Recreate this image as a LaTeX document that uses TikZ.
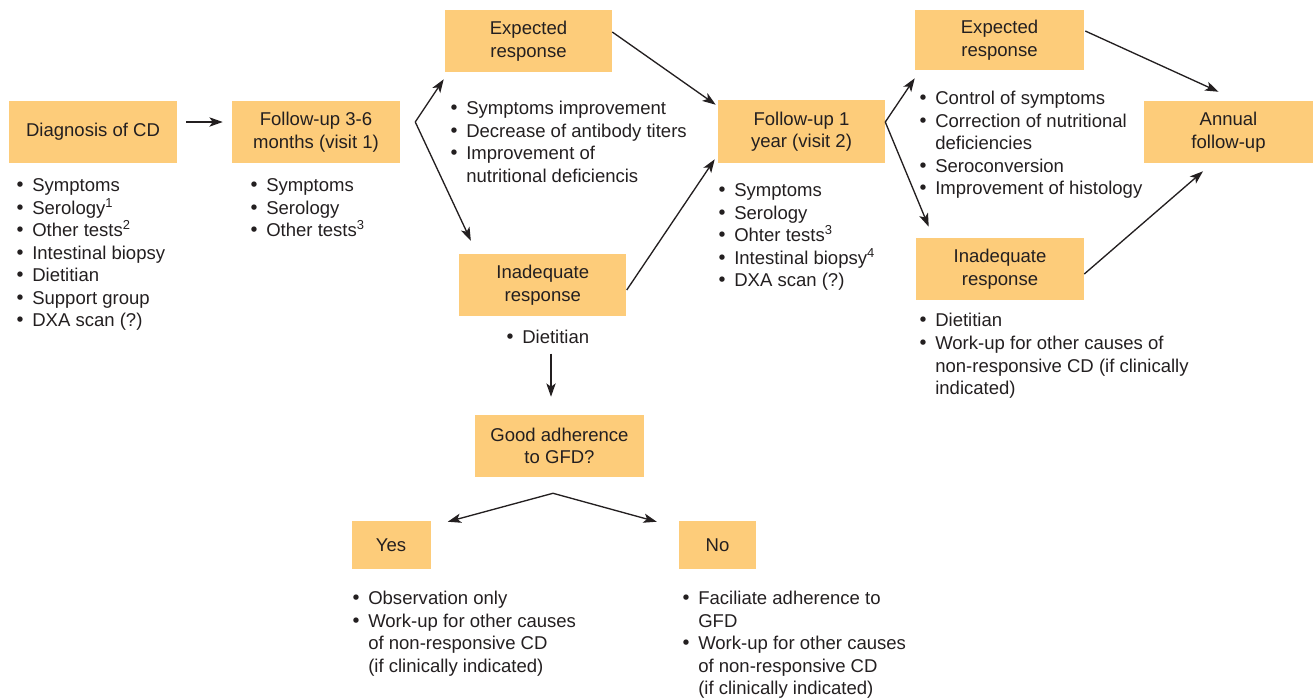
\documentclass[tikz,border=0pt]{standalone}
\usepackage{fontspec}
\setmainfont{Liberation Sans}
\newfontfamily\dvfont{DejaVu Sans}
\usetikzlibrary{arrows.meta}
\definecolor{boxc}{RGB}{253,204,122}
\definecolor{txt}{RGB}{35,31,32}
\newcommand{\itm}{\makebox[12pt][l]{\hspace*{-1.2pt}{\dvfont •}}}
\newcommand{\cnt}{\hspace*{12pt}}
\newcommand{\fst}{\rule{0pt}{14pt}}
\begin{document}
\begin{tikzpicture}[x=0.75pt,y=-0.75pt,
  font=\fontsize{13.9}{16.9}\selectfont, text=txt,
  box/.style={fill=boxc, inner sep=0pt, align=center, minimum width=126pt, minimum height=46.5pt},
  lst/.style={anchor=north west, inner sep=0pt, align=left},
  arr/.style={draw=txt, line width=1pt, -{Stealth[length=10pt,width=7pt,inset=2.5pt]}}]
\useasboundingbox (0,0) rectangle (1313,697);

% boxes
\node[box] (diag) at (93,132) {Diagnosis of CD};
\node[box] (fu1) at (316,132) {Follow-up 3-6\\months (visit 1)};
\node[box, minimum width=125.25pt] (exp1) at (528.5,41) {Expected\\response};
\node[box, minimum width=125.5pt] (inad1) at (542.8,285) {Inadequate\\response};
\node[box, minimum width=125.25pt, minimum height=47.25pt] (fu2) at (801.5,131.5) {Follow-up 1\\year (visit 2)};
\node[box, minimum width=126.75pt, minimum height=45pt] (exp2) at (999.5,40) {Expected\\response};
\node[box] (inad2) at (1000,269) {Inadequate\\response};
\node[box, minimum width=126.75pt] (annual) at (1228.5,132) {Annual\\follow-up};
\node[box, minimum width=126.75pt] (good) at (559.5,446) {Good adherence\\to GFD?};
\node[box, minimum width=59.25pt, minimum height=36pt] (yes) at (391,545) {Yes};
\node[box, minimum width=57.75pt, minimum height=36pt] (no) at (717.5,545) {No};

% lists
\node[lst] (ldiag) at (16,172.8) {\fst\itm Symptoms\\\itm Serology\textsuperscript{1}\\\itm Other tests\textsuperscript{2}\\\itm Intestinal biopsy\\\itm Dietitian\\\itm Support group\\\itm DXA scan (?)};
\node[lst] (lfu1) at (250,172.8) {\fst\itm Symptoms\\\itm Serology\\\itm Other tests\textsuperscript{3}};
\node[lst] (lexp1) at (450,95.6) {\fst\itm Symptoms improvement\\\itm Decrease of antibody titers\\\itm Improvement of\\\cnt nutritional deficiencis};
\node[lst] (linad1) at (506,324.8) {\fst\itm Dietitian};
\node[lst] (lfu2) at (718,177.8) {\fst\itm Symptoms\\\itm Serology\\\itm Ohter tests\textsuperscript{3}\\\itm Intestinal biopsy\textsuperscript{4}\\\itm DXA scan (?)};
\node[lst] (lexp2) at (919,85.6) {\fst\itm Control of symptoms\\\itm Correction of nutritional\\\cnt deficiencies\\\itm Seroconversion\\\itm Improvement of histology};
\node[lst] (linad2) at (919,308) {\fst\itm Dietitian\\\itm Work-up for other causes of\\\cnt non-responsive CD (if clinically\\\cnt indicated)};
\node[lst] (lyes) at (352,585.6) {\fst\itm Observation only\\\itm Work-up for other causes\\\cnt of non-responsive CD\\\cnt (if clinically indicated)};
\node[lst] (lno) at (682,585.6) {\fst\itm Faciliate adherence to\\\cnt GFD\\\itm Work-up for other causes\\\cnt of non-responsive CD\\\cnt (if clinically indicated)};

% branch points
\coordinate (b1) at ([shift={(15,-10)}]fu1.east);
\coordinate (b2) at ([shift={(0,-9.5)}]fu2.east);
\coordinate (b3) at ([shift={(-6.5,16)}]good.south);

% connectors
\draw[arr] ([shift={(9,-10)}]diag.east) -- ([shift={(-9,-10)}]fu1.west);
\draw[arr] (b1) -- ([shift={(-1,7)}]exp1.south west);
\draw[arr] (b1) -- ([shift={(12,-13)}]inad1.north west);
\draw[arr] ([shift={(0,-9)}]exp1.east) -- ([shift={(-2,5)}]fu2.north west);
\draw[arr] ([shift={(0,5)}]inad1.east) -- ([shift={(-3,-4)}]fu2.south west);
\draw[arr] (b2) -- ([shift={(0,8)}]exp2.south west);
\draw[arr] (b2) -- ([shift={(13,-11)}]inad2.north west);
\draw[arr] ([shift={(1,-9)}]exp2.east) -- ([shift={(-10,-9)}]annual.north);
\draw[arr] ([shift={(0,5)}]inad2.east) -- ([shift={(-25.5,8)}]annual.south);
\draw[arr] ([shift={(-8.5,-61)}]good.north) -- ([shift={(-8.5,-18)}]good.north);
\draw[arr] (b3) -- ([shift={(17,1)}]yes.north east);
\draw[arr] (b3) -- ([shift={(-22,1)}]no.north west);
\end{tikzpicture}
\end{document}
